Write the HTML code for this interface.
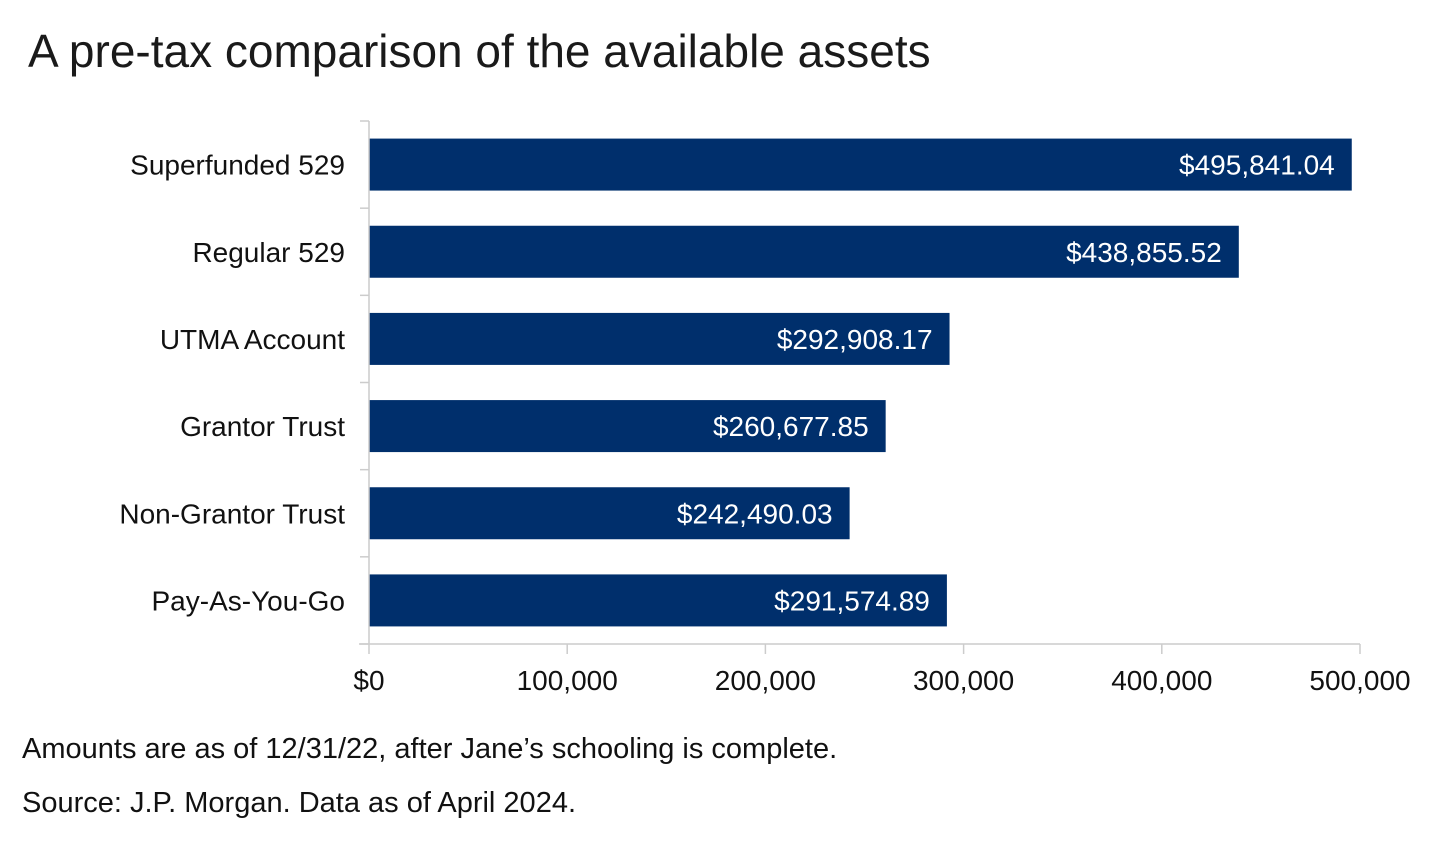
<!DOCTYPE html>
<html><head><meta charset="utf-8"><style>
body{margin:0;background:#fff;width:1440px;height:852px;overflow:hidden;font-family:"Liberation Sans","DejaVu Sans",sans-serif}
</style></head><body>
<svg width="1440" height="852" xmlns="http://www.w3.org/2000/svg">
<text x="28" y="67" font-size="46" fill="#1a1a1a">A pre-tax comparison of the available assets</text>
<g id="plot"></g>
<text x="22" y="758" font-size="29" fill="#111">Amounts are as of 12/31/22, after Jane’s schooling is complete.</text>
<text x="22" y="812" font-size="29" fill="#111">Source: J.P. Morgan. Data as of April 2024.</text>
</svg>
<script>
const categories=["Superfunded 529","Regular 529","UTMA Account","Grantor Trust","Non-Grantor Trust","Pay-As-You-Go"];
const values=[495841.04,438855.52,292908.17,260677.85,242490.03,291574.89];
const valueLabels=["$495,841.04","$438,855.52","$292,908.17","$260,677.85","$242,490.03","$291,574.89"];
const ticks=[0,100000,200000,300000,400000,500000];
const tickLabels=["$0","100,000","200,000","300,000","400,000","500,000"];
const NS="http://www.w3.org/2000/svg";
const g=document.getElementById('plot');
const x0=369,x1=1360,yTop=121,yBot=644;
const band=(yBot-yTop)/categories.length;
const xs=v=>x0+(v-ticks[0])/(ticks[ticks.length-1]-ticks[0])*(x1-x0);
function mk(t,a){const e=document.createElementNS(NS,t);for(const k in a)e.setAttribute(k,a[k]);g.appendChild(e);return e;}
categories.forEach((c,i)=>{
  const yb=yTop+i*band;
  const bh=52, by=yb+(band-bh)/2;
  const r=mk('rect',{x:x0,y:by,width:xs(values[i])-x0,height:bh,fill:'#002f6c'});
  
  
  const vl=mk('text',{x:xs(values[i])-17,y:by+bh/2+10,'font-size':28,fill:'#fff','text-anchor':'end'});
  vl.textContent=valueLabels[i];
  
  
  const cl=mk('text',{x:345,y:by+bh/2+10,'font-size':28,fill:'#111','text-anchor':'end'});
  cl.textContent=c;
  
  
});
for(let i=0;i<=categories.length;i++){
  const y=yTop+i*band;
  const t=mk('line',{x1:360,x2:x0,y1:y,y2:y,stroke:'#ccc','stroke-width':1.5});
  
  
}
const ya=mk('line',{x1:x0,x2:x0,y1:yTop,y2:yBot,stroke:'#ccc','stroke-width':1.5});


const xa=mk('line',{x1:359,x2:x1,y1:yBot,y2:yBot,stroke:'#ccc','stroke-width':1.5});


ticks.forEach((t,i)=>{
  const x=xs(t);
  const tk=mk('line',{x1:x,x2:x,y1:yBot,y2:yBot+10,stroke:'#ccc','stroke-width':1.5});
  
  
  const tl=mk('text',{x:x,y:690,'font-size':28,fill:'#111','text-anchor':'middle'});
  tl.textContent=tickLabels[i];
  
  
});
</script>
</body></html>
